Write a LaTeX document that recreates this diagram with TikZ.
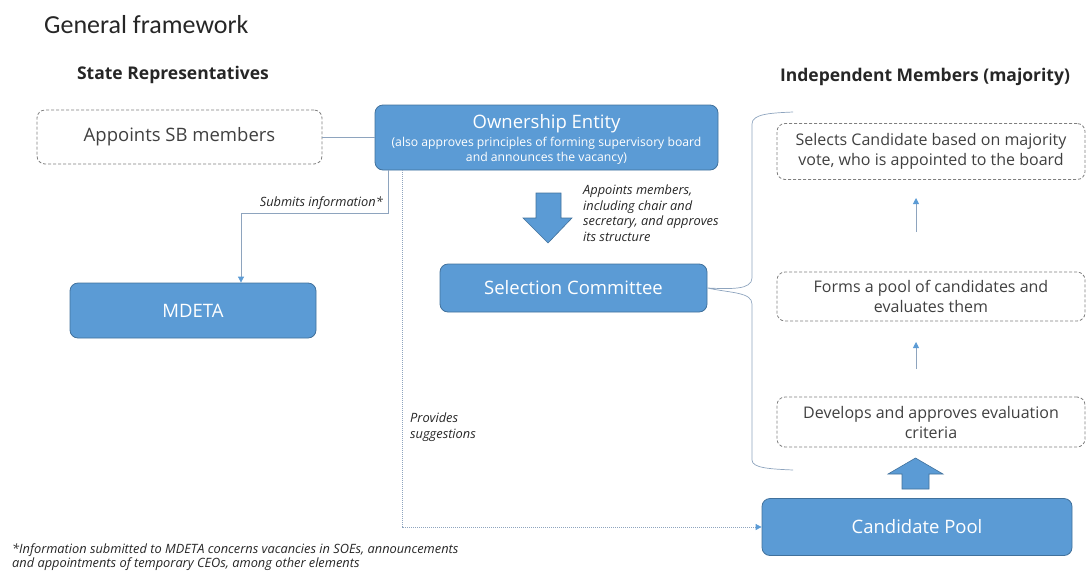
\documentclass[tikz,border=0pt]{standalone}
\usepackage{fontspec}
\setmainfont{Open Sans}
\newfontfamily\titlefont{Carlito}
\usetikzlibrary{arrows.meta}
\definecolor{boxblue}{HTML}{5B9BD5}
\definecolor{boxedge}{HTML}{41719C}
\definecolor{dashgray}{HTML}{7F7F7F}
\definecolor{txtgray}{HTML}{404040}
\definecolor{linecol}{HTML}{8EA4BE}
\definecolor{headcol}{HTML}{262626}
\begin{document}
\begin{tikzpicture}[x=1pt,y=-1pt,
  bluebox/.style={draw=boxedge, fill=boxblue, rounded corners=8pt, text=white, line width=0.8pt, inner sep=0pt, align=center},
  dashbox/.style={draw=dashgray, dash pattern=on 3pt off 2pt, rounded corners=8pt, text=txtgray, line width=0.8pt, inner sep=0pt, align=center},
  header/.style={font=\fontsize{17.5}{20}\selectfont\bfseries, text=headcol, inner sep=0pt},
  lbl/.style={font=\fontsize{12.8}{15.5}\selectfont\itshape, text=headcol, inner sep=0pt},
  conn/.style={draw=linecol, line width=0.8pt},
  tip/.style={-{Triangle[width=6pt,length=6pt,color=boxblue]}},
  blockarrow/.style={fill=boxblue, draw=boxedge, line width=0.6pt},
  rtext/.style={font=\fontsize{16}{20}\selectfont},
  btext/.style={font=\fontsize{18.5}{22}\selectfont}
]
\useasboundingbox (0,0) rectangle (1086,571);

\node[anchor=base west, inner sep=0pt, font=\titlefont\fontsize{26}{30}\selectfont, text=headcol] (title) at (44,33) {General framework};

\node[header] (staterep) at (173,75) {State Representatives};
\node[header] (indep) at (925,77) {Independent Members (majority)};

\node[dashbox, minimum width=285pt, minimum height=54pt, btext] (appoint) at (179.5,137) {Appoints SB members};

\node[bluebox, minimum width=343pt, minimum height=65pt, font=\fontsize{12.2}{15}\selectfont] (oe) at (546.5,137.5) {};
\node[text=white, align=center, inner sep=0pt, font=\fontsize{12.2}{15}\selectfont] (oetext) at (546.5,139.5)
  {{\fontsize{18.5}{15}\selectfont Ownership Entity}\\[3pt]
   (also approves principles of forming supervisory board\\
   and announces the vacancy)};

\node[bluebox, minimum width=246pt, minimum height=55pt, btext] (mdeta) at (193,310.5) {MDETA};

\node[bluebox, minimum width=267pt, minimum height=48pt, btext] (sc) at (573.5,288) {Selection Committee};

\node[dashbox, minimum width=308pt, minimum height=56pt, rtext] (selects) at (931,151.5) {Selects Candidate based on majority\\vote, who is appointed to the board};
\node[dashbox, minimum width=308pt, minimum height=49pt, rtext] (forms) at (931,296.5) {Forms a pool of candidates and\\evaluates them};
\node[dashbox, minimum width=308pt, minimum height=50pt, rtext] (develops) at (931,422) {Develops and approves evaluation\\criteria};

\node[bluebox, minimum width=310pt, minimum height=57pt, btext] (cp) at (917,527) {Candidate Pool};

% connectors
\draw[conn] (appoint.east) -- (oe.west |- appoint.east);

\coordinate (s1) at (388,213);
\coordinate (s2) at (241,213);
\draw[conn, tip] (oe.south -| s1) -- (s1) -- (s2) -- (s2 |- mdeta.north);
\node[lbl, anchor=base east] (sublbl) at (383,206) {Submits information*};

\coordinate (d1) at (402,527);
\draw[conn, dash pattern=on 1pt off 1pt, tip] (oe.south -| d1) -- (d1) -- (d1 -| cp.west);
\node[lbl, anchor=north west, align=left] (provlbl) at (410,413) {Provides\\suggestions};

% block arrow down
\draw[blockarrow] (536,193) -- (561,193) -- (561,218) -- (572,218) -- (548,243) -- (523,218) -- (536,218) -- cycle;
\node[lbl, anchor=north west, align=left] (applbl) at (583,185) {Appoints members,\\including chair and\\secretary, and approves\\its structure};

% brace
\draw[conn, line width=0.7pt] (793,112) .. controls (770,113) and (752,114) .. (752,124)
  -- (752,278) .. controls (752,290) and (730,289) .. (sc.east)
  .. controls (730,293) and (752,292) .. (752,304)
  -- (752,460) .. controls (752,468) and (770,469) .. (793,470);

% thin arrows
\draw[conn, tip] (916,232) -- (916,198);
\draw[conn, tip] (916,369) -- (916,342);

% block arrow up
\draw[blockarrow] (902,489) -- (929,489) -- (929,474) -- (943,474) -- (915.5,458) -- (888,474) -- (902,474) -- cycle;

% footnote
\node[anchor=north west, align=left, inner sep=0pt, font=\fontsize{12.8}{14}\selectfont\itshape, text=headcol] (foot) at (12,543)
 {*Information submitted to MDETA concerns vacancies in SOEs, announcements\\and appointments of temporary CEOs, among other elements};
\end{tikzpicture}
\end{document}
